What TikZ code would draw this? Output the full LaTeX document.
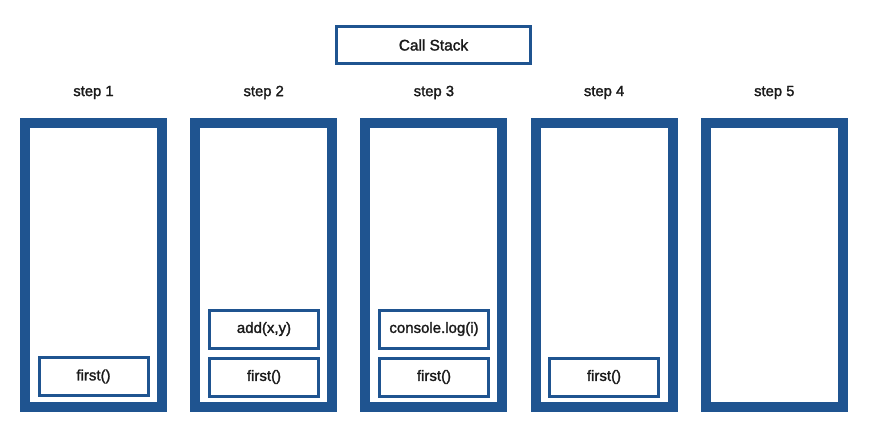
\documentclass[tikz,border=0pt]{standalone}
\usepackage{fontspec}
\setmainfont{Liberation Sans}
\newcommand{\medfont}{\addfontfeature{FakeBold=1.6}}
\definecolor{stackblue}{HTML}{1F5490}
\definecolor{inktext}{HTML}{1A1A1A}
\begin{document}
\begin{tikzpicture}[x=1pt,y=-1pt,
  column/.style={draw=stackblue,line width=10pt,minimum width=137pt,minimum height=284pt,inner sep=0pt},
  frame/.style={draw=stackblue,line width=3pt,minimum width=109pt,minimum height=38pt,inner sep=0pt,text=inktext,font=\fontsize{15}{17}\selectfont\medfont},
  steplabel/.style={font=\fontsize{14.8}{17}\selectfont\medfont,text=inktext,inner sep=0pt},
  titlebox/.style={draw=stackblue,line width=3pt,minimum width=194pt,minimum height=37pt,inner sep=0pt,text=inktext,font=\fontsize{15.4}{18}\selectfont\medfont}]
\useasboundingbox (0,0) rectangle (875,423);
\node[titlebox] (title) at (433.5,45) {Call Stack};
\foreach \i in {1,...,5}{
  \pgfmathsetmacro{\cx}{93.5+170.2*(\i-1)}
  \node[column] (s\i) at (\cx,265) {};
  \node[steplabel] (l\i) at (\cx,92.5) {step \i};
}
\node[frame] (f1) at (93.5,376.5) {first()};
\node[frame] (a2) at (264,329) {add(x,y)};
\node[frame] (f2) at (264,377) {first()};
\node[frame] (c3) at (434,329) {console.log(i)};
\node[frame] (f3) at (434,377) {first()};
\node[frame] (f4) at (604,377) {first()};
\end{tikzpicture}
\end{document}
